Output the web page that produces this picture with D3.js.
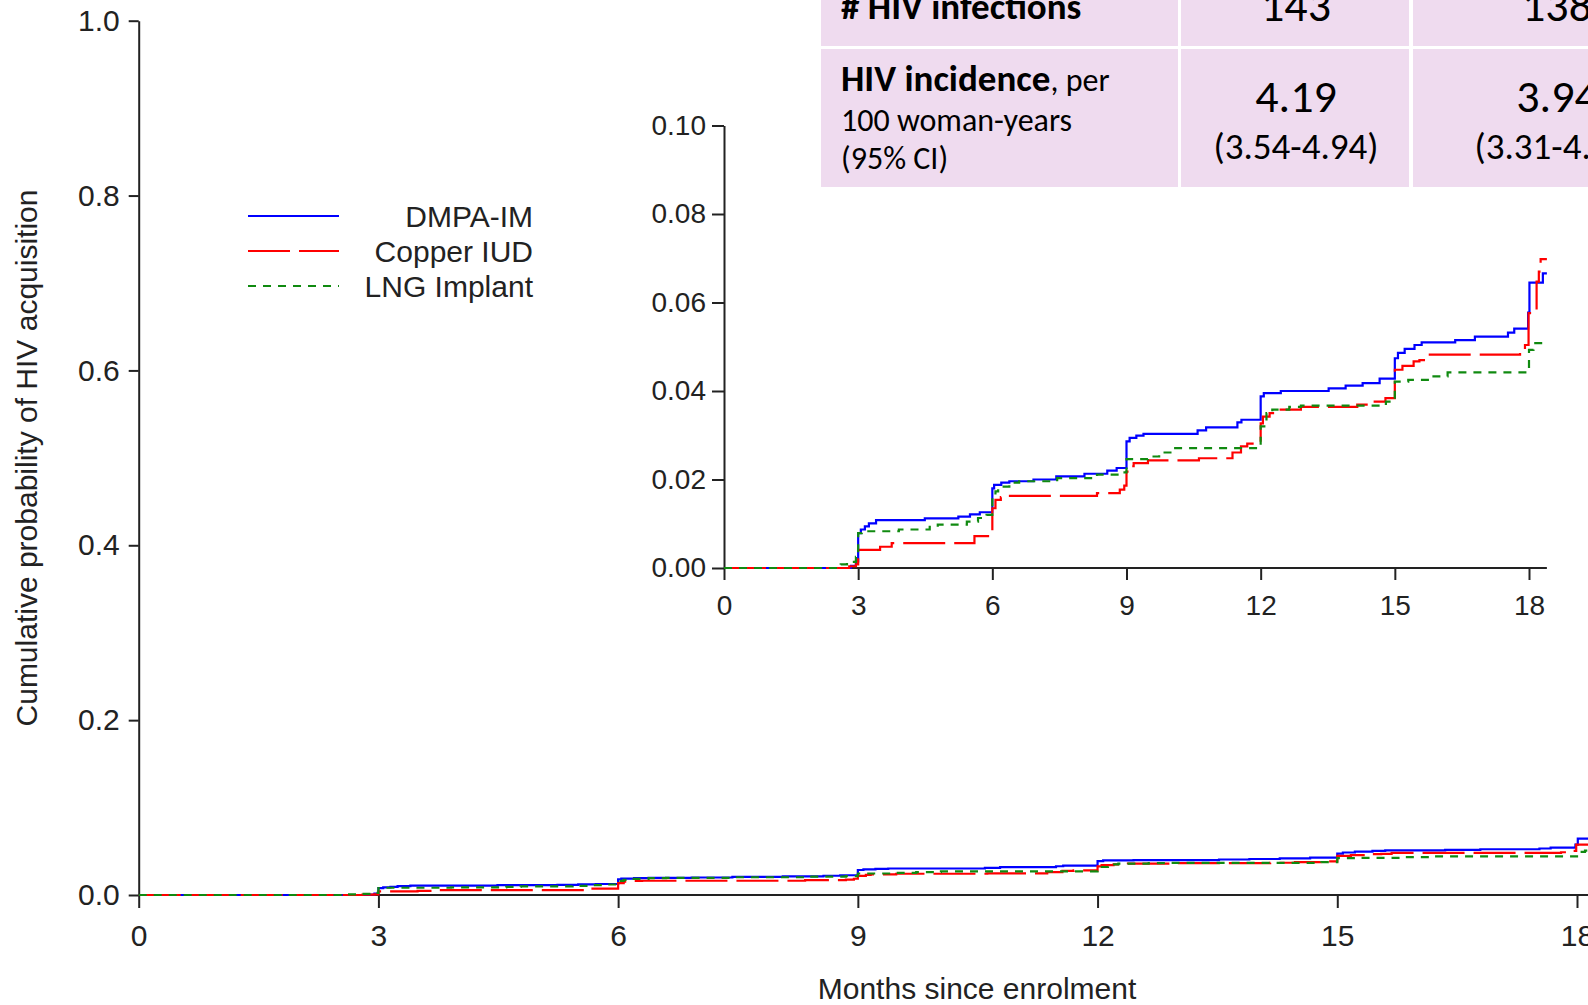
<!DOCTYPE html>
<html>
<head>
<meta charset="utf-8">
<script src="https://cdn.jsdelivr.net/npm/d3@7"></script>
<style>
  html, body { margin: 0; padding: 0; background: #fff; overflow: hidden; }
  svg { display: block; }
  .ax text { font-family: "Liberation Sans", Arial, sans-serif; fill: #222; }
</style>
</head>
<body>
<svg id="chart" width="1588" height="1005"></svg>
<script>
// ---------------- DATA ----------------
const seriesNames = ["DMPA-IM", "Copper IUD", "LNG Implant"];
// step points: [months since enrolment, cumulative probability]
const dmpaSteps = [
  [0,0],[2.84,0.0005],[2.95,0.0015],[3.0,0.0079],[3.06,0.0087],[3.15,0.0094],[3.24,0.0101],[3.4,0.0108],
  [4.49,0.0112],[5.24,0.0116],[5.5,0.0121],[5.72,0.0126],[6.0,0.0180],[6.04,0.0188],[6.2,0.0193],[6.38,0.0196],
  [6.92,0.0200],[7.43,0.0207],[8.06,0.0213],[8.57,0.0220],[8.78,0.0226],[9.0,0.0286],[9.07,0.0294],[9.22,0.0299],
  [9.38,0.0303],[10.59,0.0311],[10.78,0.0318],[11.48,0.0329],[11.57,0.0335],[12.0,0.0388],[12.07,0.0395],
  [12.45,0.0400],[13.52,0.0406],[13.9,0.0412],[14.28,0.0418],[14.66,0.0428],[15.0,0.0474],[15.07,0.0486],
  [15.22,0.0495],[15.44,0.0504],[15.6,0.0510],[16.35,0.0515],[16.79,0.0523],[17.53,0.0532],[17.67,0.0541],
  [17.98,0.0577],[18.01,0.0645],[18.31,0.0666],[18.4,0.0666]
];
const copperSteps = [
  [0,0],[2.8,0.0004],[2.95,0.0008],[3.0,0.0041],[3.49,0.0048],[3.75,0.0056],[5.6,0.0072],[6.0,0.0135],
  [6.07,0.0154],[6.19,0.0160],[6.3,0.0163],[8.34,0.0169],[8.85,0.0177],[8.95,0.0186],[9.0,0.0218],[9.1,0.0230],
  [9.16,0.0237],[9.48,0.0243],[10.62,0.0248],[11.37,0.0261],[11.56,0.0275],[11.7,0.0281],[12.0,0.0327],
  [12.05,0.0342],[12.2,0.0350],[12.38,0.0358],[12.9,0.0364],[14.16,0.0369],[14.47,0.0376],[14.79,0.0384],
  [15.0,0.0448],[15.17,0.0457],[15.42,0.0467],[15.55,0.0470],[15.68,0.0482],[17.8,0.0489],[17.91,0.0504],
  [17.99,0.0576],[18.17,0.0647],[18.22,0.0670],[18.26,0.0698],[18.4,0.0698]
];
const lngSteps = [
  [0,0],[2.61,0.0008],[2.75,0.0014],[2.95,0.0025],[3.0,0.0079],[3.08,0.0083],[3.91,0.0087],[4.6,0.0093],
  [4.78,0.0098],[5.43,0.0105],[5.68,0.0113],[5.87,0.0120],[6.0,0.0162],[6.07,0.0173],[6.13,0.0184],
  [6.38,0.0193],[6.6,0.0196],[7.45,0.0203],[8.34,0.0211],[8.85,0.0216],[9.0,0.0246],[9.48,0.0252],
  [9.73,0.0261],[10.04,0.0271],[12.0,0.0320],[12.13,0.0350],[12.26,0.0358],[12.64,0.0364],[12.9,0.0367],
  [14.8,0.0376],[15.0,0.0421],[15.3,0.0425],[15.8,0.0433],[16.18,0.0442],[18.0,0.0493],[18.1,0.0508],[18.33,0.0508]
];
const mainYTicks = [0, 0.2, 0.4, 0.6, 0.8, 1.0];
const insetYTicks = [0, 0.02, 0.04, 0.06, 0.08, 0.10];
const xTicks = [0, 3, 6, 9, 12, 15, 18];
const tableRowLabels = ["# HIV infections", "HIV incidence"];
const infections = ["143", "138"];
const incidence = ["4.19", "3.94"];
const incidenceCI = ["(3.54-4.94)", "(3.31-4.66)"];

// ---------------- STYLE ----------------
const colors = ["#0000ff", "#ff0000", "#108a10"];
const dashes = [null, "42,9", "8,7"];
const allSteps = [dmpaSteps, copperSteps, lngSteps];

const svg = d3.select("#chart");

// ---------------- MAIN CHART ----------------
const xMain = d3.scaleLinear().domain([0, 18]).range([138.7, 1577]);
const yMain = d3.scaleLinear().domain([0, 1]).range([895, 20.7]);

const mainG = svg.append("g");

const yAxMain = mainG.append("g").attr("class", "ax").attr("transform", `translate(${xMain(0)},0)`)
  .call(d3.axisLeft(yMain).tickValues(mainYTicks).tickFormat(d3.format(".1f")).tickSize(10).tickPadding(9).tickSizeOuter(0));
yAxMain.selectAll("text").style("font-size", "30px");
yAxMain.selectAll("line,path").attr("stroke", "#222").attr("stroke-width", 2);

const xAxMain = mainG.append("g").attr("class", "ax").attr("transform", `translate(0,${yMain(0)})`)
  .call(d3.axisBottom(xMain).tickValues(xTicks).tickFormat(d3.format("d")).tickSize(13).tickPadding(17).tickSizeOuter(0));
xAxMain.select(".domain").remove();
xAxMain.append("line").attr("x1", xMain(0)).attr("x2", xMain(18.3)).attr("stroke", "#222").attr("stroke-width", 2);
xAxMain.selectAll("text").style("font-size", "30px");
xAxMain.selectAll(".tick line").attr("stroke", "#222").attr("stroke-width", 2);

const lineMain = d3.line().x(d => xMain(d[0])).y(d => yMain(d[1])).curve(d3.curveStepAfter);
allSteps.forEach((s, i) => {
  mainG.append("path").attr("d", lineMain(s)).attr("fill", "none")
    .attr("stroke", colors[i]).attr("stroke-width", 2.2).attr("stroke-dasharray", dashes[i]);
});

mainG.append("text")
  .attr("x", 977).attr("y", 999).attr("text-anchor", "middle")
  .style("font-family", "'Liberation Sans', Arial, sans-serif").style("font-size", "30px").attr("fill", "#222")
  .text("Months since enrolment");
mainG.append("text")
  .attr("transform", "translate(36.5,458) rotate(-90)").attr("text-anchor", "middle")
  .style("font-family", "'Liberation Sans', Arial, sans-serif").style("font-size", "30px").attr("fill", "#222")
  .text("Cumulative probability of HIV acquisition");

// legend
const legY = [216, 251, 286];
seriesNames.forEach((n, i) => {
  mainG.append("line").attr("x1", 248).attr("x2", 339).attr("y1", legY[i]).attr("y2", legY[i])
    .attr("stroke", colors[i]).attr("stroke-width", 2.2).attr("stroke-dasharray", dashes[i]);
  mainG.append("text").attr("x", 533).attr("y", legY[i] + 11).attr("text-anchor", "end")
    .style("font-family", "'Liberation Sans', Arial, sans-serif").style("font-size", "30px").attr("fill", "#222")
    .text(n);
});

// ---------------- INSET ----------------
const xIn = d3.scaleLinear().domain([0, 18]).range([724, 1529]);
const yIn = d3.scaleLinear().domain([0, 0.10]).range([568, 125.5]);
const inG = svg.append("g");
const yAxIn = inG.append("g").attr("class", "ax").attr("transform", `translate(${xIn(0)},0)`)
  .call(d3.axisLeft(yIn).tickValues(insetYTicks).tickFormat(d3.format(".2f")).tickSize(12).tickPadding(6).tickSizeOuter(0));
yAxIn.selectAll("text").style("font-size", "28px");
yAxIn.selectAll("line,path").attr("stroke", "#222").attr("stroke-width", 2);
const xAxIn = inG.append("g").attr("class", "ax").attr("transform", `translate(0,${yIn(0)})`)
  .call(d3.axisBottom(xIn).tickValues(xTicks).tickFormat(d3.format("d")).tickSize(12).tickPadding(15).tickSizeOuter(0));
xAxIn.select(".domain").remove();
xAxIn.append("line").attr("x1", xIn(0)).attr("x2", xIn(18.4)).attr("stroke", "#222").attr("stroke-width", 2);
xAxIn.selectAll("text").style("font-size", "28px");
xAxIn.selectAll(".tick line").attr("stroke", "#222").attr("stroke-width", 2);

const lineIn = d3.line().x(d => xIn(d[0])).y(d => yIn(d[1])).curve(d3.curveStepAfter);
allSteps.forEach((s, i) => {
  inG.append("path").attr("d", lineIn(s)).attr("fill", "none")
    .attr("stroke", colors[i]).attr("stroke-width", 2.2).attr("stroke-dasharray", dashes[i]);
});

// ---------------- TABLE ----------------
const tbl = svg.append("g");
const pink = "#efdbef";
const colX = [[821, 1178], [1181, 1409], [1413, 1720]];
const rowY = [[-60, 46], [49, 187]];
rowY.forEach(r => colX.forEach(c => {
  tbl.append("rect").attr("x", c[0]).attr("y", r[0]).attr("width", c[1] - c[0]).attr("height", r[1] - r[0]).attr("fill", pink);
}));
const tf = "Carlito, Lato, 'Open Sans', sans-serif";
tbl.append("text").attr("x", 841).attr("y", 19).style("font-family", tf).style("font-size", "37px")
  .style("font-weight", "bold").attr("fill", "#000").text(tableRowLabels[0]);
const t2 = tbl.append("text").attr("x", 841).attr("y", 91).style("font-family", tf).attr("fill", "#000");
t2.append("tspan").style("font-size", "37px").style("font-weight", "bold").text(tableRowLabels[1]);
t2.append("tspan").style("font-size", "32px").text(", per");
tbl.append("text").attr("x", 841).attr("y", 131).style("font-family", tf).style("font-size", "32px").attr("fill", "#000").text("100 woman-years");
tbl.append("text").attr("x", 841).attr("y", 169).style("font-family", tf).style("font-size", "32px").attr("fill", "#000").text("(95% CI)");
const centers = [1296, 1557];
centers.forEach((cx, i) => {
  tbl.append("text").attr("x", cx).attr("y", 21).attr("text-anchor", "middle").style("font-family", tf)
    .style("font-size", "46px").attr("fill", "#000").text(infections[i]);
  tbl.append("text").attr("x", cx).attr("y", 112).attr("text-anchor", "middle").style("font-family", tf)
    .style("font-size", "46px").attr("fill", "#000").text(incidence[i]);
  tbl.append("text").attr("x", cx).attr("y", 159).attr("text-anchor", "middle").style("font-family", tf)
    .style("font-size", "37px").attr("fill", "#000").text(incidenceCI[i]);
});
</script>
</body>
</html>
